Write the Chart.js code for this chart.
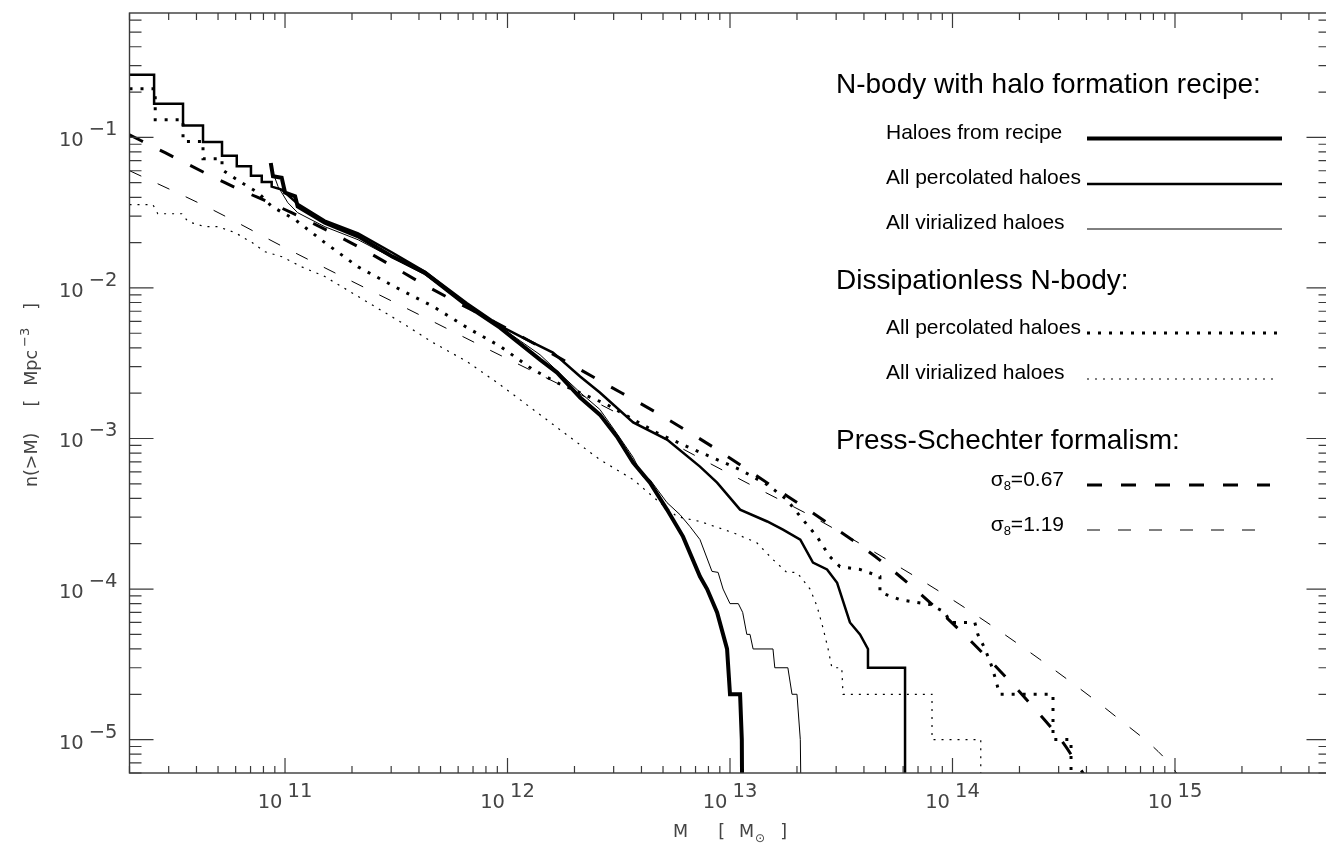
<!DOCTYPE html>
<html>
<head>
<meta charset="utf-8">
<script src="https://cdn.jsdelivr.net/npm/chart.js@4.4.0/dist/chart.umd.min.js"></script>
<style>
  html, body { margin: 0; padding: 0; background: #fff; overflow: hidden; }
  #wrap { width: 1340px; height: 844px; }
</style>
</head>
<body>
<div id="wrap"><canvas id="massFn" width="1340" height="844"></canvas></div>
<script>
// Cumulative halo mass function n(>M) [Mpc^-3] against M [Msun].

// N-body with halo formation recipe: haloes from recipe (thick solid)
const recipeM = [8.63e10, 8.83e10, 9.66e10, 1.0e11, 1.11e11, 1.14e11, 1.51e11, 2.13e11, 3.03e11, 4.26e11,
  6.58e11, 9.25e11, 1.40e12, 1.67e12, 2.12e12, 2.60e12, 3.10e12, 3.67e12, 4.37e12, 5.21e12,
  6.15e12, 7.33e12, 7.89e12, 8.75e12, 9.70e12, 1.0e13, 1.11e13, 1.13e13, 1.14e13];
const recipeN = [0.0676, 0.0551, 0.054, 0.043, 0.0406, 0.0348, 0.0271, 0.022, 0.0162, 0.0126,
  0.00762, 0.00545, 0.00334, 0.00274, 0.00187, 0.00144, 0.00103, 0.000692, 0.000509, 0.000337,
  0.000223, 0.000121, 1.0e-4, 7.0e-5, 4.0e-5, 2.0e-5, 2.0e-5, 1.0e-5, 1.0e-6];

// recipe run: all percolated haloes (medium solid)
const pctRecipeM = [2.0e10, 2.58e10, 2.58e10, 3.48e10, 3.48e10, 4.28e10, 4.28e10, 5.21e10, 5.21e10, 6.07e10,
  6.07e10, 7.03e10, 7.03e10, 7.86e10, 7.86e10, 8.71e10, 8.71e10, 9.66e10, 1.14e11, 1.51e11,
  2.13e11, 3.03e11, 4.26e11, 6.58e11, 9.25e11, 1.22e12, 1.60e12, 2.12e12, 2.60e12, 3.67e12,
  5.21e12, 7.33e12, 8.75e12, 1.11e13, 1.47e13, 1.73e13, 2.07e13, 2.36e13, 2.73e13, 3.03e13,
  3.46e13, 3.84e13, 4.17e13, 4.17e13, 6.12e13, 6.12e13];
const pctRecipeN = [0.261, 0.261, 0.167, 0.167, 0.120, 0.120, 0.0931, 0.0931, 0.0755, 0.0755,
  0.0642, 0.0642, 0.0557, 0.0557, 0.0505, 0.0505, 0.0471, 0.0450, 0.0362, 0.0280,
  0.0230, 0.0172, 0.0128, 0.00790, 0.00560, 0.00454, 0.00372, 0.00258, 0.00202, 0.00128,
  0.000984, 0.000650, 0.000509, 0.000337, 0.000281, 0.000248, 0.000213, 0.000150, 0.000135, 0.000110,
  6.0e-5, 5.0e-5, 4.0e-5, 3.0e-5, 3.0e-5, 1.0e-6];

// recipe run: all virialized haloes (thin solid)
const virRecipeM = [8.7e10, 9.31e10, 1.03e11, 1.14e11, 1.51e11, 2.13e11, 3.03e11, 4.26e11, 6.58e11, 9.25e11,
  1.40e12, 2.12e12, 2.60e12, 3.10e12, 3.67e12, 4.06e12, 4.37e12, 5.21e12, 5.96e12, 6.61e12,
  7.33e12, 8.30e12, 8.84e12, 9.31e12, 1.0e13, 1.09e13, 1.14e13, 1.19e13, 1.23e13, 1.27e13,
  1.56e13, 1.59e13, 1.82e13, 1.90e13, 2.0e13, 2.07e13, 2.11e13];
const virRecipeN = [0.062, 0.0471, 0.0368, 0.0316, 0.0255, 0.0209, 0.0159, 0.0122, 0.00762, 0.00553,
  0.0036, 0.00202, 0.00156, 0.00108, 0.00075, 0.000558, 0.000533, 0.000375, 0.000312, 0.00026,
  0.000213, 0.000131, 0.000129, 1.0e-4, 8.0e-5, 8.0e-5, 7.0e-5, 5.0e-5, 5.0e-5, 4.0e-5,
  4.0e-5, 3.0e-5, 3.0e-5, 2.0e-5, 2.0e-5, 1.0e-5, 1.0e-6];

// dissipationless N-body: all percolated haloes (thick dotted)
const pctNbodyM = [2.0e10, 2.61e10, 2.61e10, 3.48e10, 3.48e10, 4.28e10, 4.28e10, 5.21e10, 5.21e10, 6.38e10,
  7.56e10, 8.71e10, 1.11e11, 1.51e11, 2.13e11, 3.29e11, 4.62e11, 6.58e11, 9.25e11, 1.30e12,
  1.67e12, 2.80e12, 4.70e12, 6.41e12, 8.75e12, 1.11e13, 1.47e13, 1.80e13, 2.07e13, 2.46e13,
  2.81e13, 3.12e13, 3.84e13, 4.72e13, 4.72e13, 5.81e13, 7.93e13, 9.25e13, 9.75e13, 1.26e14,
  1.30e14, 1.40e14, 1.51e14, 1.63e14, 2.83e14, 2.83e14, 3.41e14, 3.41e14];
const pctNbodyN = [0.210, 0.210, 0.131, 0.131, 0.094, 0.094, 0.0722, 0.0722, 0.0610, 0.050,
  0.043, 0.0348, 0.0284, 0.020, 0.0138, 0.00975, 0.00755, 0.00545, 0.0041, 0.00287,
  0.00235, 0.00168, 0.00109, 0.000884, 0.000724, 0.000621, 0.000494, 0.000393, 0.000303, 0.000223,
  0.000164, 0.000141, 0.000135, 0.000121, 9.5e-5, 8.5e-5, 7.9e-5, 7.0e-5, 6.0e-5, 6.0e-5,
  5.0e-5, 4.0e-5, 3.0e-5, 2.0e-5, 2.0e-5, 1.0e-5, 1.0e-5, 1.0e-6];

// dissipationless N-body: all virialized haloes (thin dotted)
const virNbodyM = [2.0e10, 2.55e10, 2.68e10, 3.44e10, 3.66e10, 4.36e10, 5.0e10, 5.96e10, 7.11e10, 8.13e10,
  9.70e10, 1.19e11, 1.51e11, 3.29e11, 4.62e11, 6.58e11, 9.25e11, 2.60e12, 3.67e12, 4.84e12,
  5.78e12, 7.33e12, 1.03e13, 1.32e13, 1.56e13, 1.80e13, 2.0e13, 2.29e13, 2.46e13, 2.62e13,
  2.76e13, 2.87e13, 3.18e13, 3.22e13, 8.09e13, 8.09e13, 1.34e14, 1.34e14];
const virNbodyN = [0.0357, 0.0357, 0.0311, 0.0311, 0.0276, 0.0255, 0.0255, 0.0233, 0.020, 0.0174,
  0.0161, 0.0138, 0.0119, 0.00597, 0.00434, 0.00324, 0.00228, 0.000724, 0.000533, 0.000375,
  0.000303, 0.000281, 0.000237, 0.000203, 0.000157, 0.000129, 0.000129, 1.0e-4, 7.7e-5, 5.5e-5,
  4.0e-5, 3.0e-5, 3.0e-5, 2.0e-5, 2.0e-5, 1.0e-5, 1.0e-5, 1.0e-6];

// Press-Schechter, sigma8 = 0.67 (thick dashed) and 1.19 (thin dashed)
const ps067M = [2.0e10, 2.89e10, 5.37e10, 1.07e11, 2.13e11, 4.49e11, 9.95e11, 2.69e12, 4.84e12, 8.75e12,
  1.51e13, 2.73e13, 4.87e13, 1.08e14, 2.52e14, 3.14e14, 3.86e14, 4.36e14];
const ps067N = [0.104, 0.0791, 0.050, 0.0316, 0.0188, 0.0100, 0.00537, 0.00235, 0.00144, 0.000843,
  0.000494, 0.000276, 0.000150, 5.31e-5, 1.42e-5, 9.55e-6, 6.0e-6, 4.66e-6];
const ps119M = [2.0e10, 4.60e10, 1.0e11, 4.54e11, 8.43e11, 1.55e12, 2.89e12, 7.11e12, 1.28e13, 2.39e13,
  4.26e13, 1.08e14, 2.47e14, 5.43e14, 9.12e14, 1.11e15];
const ps119N = [0.0601, 0.0337, 0.0185, 0.00606, 0.00383, 0.00246, 0.00156, 0.000758, 0.000480, 0.000298,
  0.000183, 7.89e-5, 3.41e-5, 1.42e-5, 7.36e-6, 5.02e-6];

// axis ranges
const massRange = [2e10, 5e15];
const densRange = [6e-6, 0.67];

const axisColor = '#3a3a3a';
const labelFont = '"DejaVu Sans", sans-serif';
const legendFont = '"Liberation Sans", Arial, sans-serif';

function pts(m, n) {
  return m.map((v, i) => ({ x: v, y: n[i] }));
}

function logTicks(min, max) {
  const out = [];
  for (let e = Math.floor(Math.log10(min)); e <= Math.ceil(Math.log10(max)); e++) {
    for (let k = 1; k <= 9; k++) {
      const v = k * Math.pow(10, e);
      if (v >= min * 0.999 && v <= max * 1.001) out.push({ v, e, major: k === 1 });
    }
  }
  return out;
}

// writes "10" with a raised exponent; anchor is centre (x axis) or right edge (y axis)
function powerLabel(ctx, exp, x, y, anchor) {
  ctx.font = '19.5px ' + labelFont;
  const expStr = exp < 0 ? '\u2212' + Math.abs(exp) : String(exp);
  const w1 = ctx.measureText('10').width;
  const w2 = ctx.measureText(expStr).width;
  const gap = 5;
  const total = w1 + gap + w2;
  const x0 = anchor === 'center' ? x - total / 2 : x - total;
  ctx.textAlign = 'left';
  ctx.fillText('10', x0, y);
  ctx.fillText(expStr, x0 + w1 + gap, y - 11);
}

function drawPieces(ctx, pieces, cx, baseY) {
  let total = 0;
  pieces.forEach(p => {
    ctx.font = (p.size || 17.5) + 'px ' + labelFont;
    p.w = ctx.measureText(p.t).width;
    total += (p.gap || 0) + p.w;
  });
  let cur = cx - total / 2;
  ctx.textAlign = 'left';
  pieces.forEach(p => {
    cur += p.gap || 0;
    ctx.font = (p.size || 17.5) + 'px ' + labelFont;
    ctx.fillText(p.t, cur, baseY + (p.dy || 0));
    cur += p.w;
  });
}

function legendSample(ctx, ds, y, x1, x2) {
  ctx.save();
  ctx.strokeStyle = '#000';
  ctx.lineWidth = ds.borderWidth;
  ctx.setLineDash(ds.borderDash || []);
  ctx.beginPath();
  ctx.moveTo(x1, y);
  ctx.lineTo(x2, y);
  ctx.stroke();
  ctx.restore();
}

const idlFrame = {
  id: 'idlFrame',
  afterDraw(chart) {
    const { ctx, chartArea: a, scales: { x, y } } = chart;
    const ds = chart.data.datasets;
    ctx.save();

    // frame
    ctx.strokeStyle = axisColor;
    ctx.lineWidth = 1.4;
    ctx.strokeRect(a.left, a.top, a.right - a.left, a.bottom - a.top);

    // ticks, pointing inwards on all four sides
    ctx.lineWidth = 1.2;
    ctx.beginPath();
    logTicks(x.min, x.max).forEach(t => {
      const px = x.getPixelForValue(t.v);
      const len = t.major ? 15 : 7;
      ctx.moveTo(px, a.bottom); ctx.lineTo(px, a.bottom - len);
      ctx.moveTo(px, a.top); ctx.lineTo(px, a.top + len);
    });
    logTicks(y.min, y.max).forEach(t => {
      const py = y.getPixelForValue(t.v);
      const len = t.major ? 24 : 12;
      ctx.moveTo(a.left, py); ctx.lineTo(a.left + len, py);
      ctx.moveTo(a.right, py); ctx.lineTo(a.right - len, py);
    });
    ctx.stroke();

    // tick labels
    ctx.fillStyle = '#444';
    logTicks(x.min, x.max).filter(t => t.major).forEach(t => {
      powerLabel(ctx, t.e, x.getPixelForValue(t.v), a.bottom + 35, 'center');
    });
    logTicks(y.min, y.max).filter(t => t.major).forEach(t => {
      powerLabel(ctx, t.e, a.left - 12, y.getPixelForValue(t.v) + 9, 'right');
    });

    // axis titles
    drawPieces(ctx, [
      { t: 'M' },
      { t: '[', gap: 30 },
      { t: 'M', gap: 14 },
      { t: '\u2299', size: 12, dy: 5, gap: 1 },
      { t: ']', gap: 15 }
    ], (a.left + a.right) / 2, 837);

    ctx.save();
    ctx.translate(37, (a.top + a.bottom) / 2 + 2);
    ctx.rotate(-Math.PI / 2);
    drawPieces(ctx, [
      { t: 'n(>M)' },
      { t: '[', gap: 26 },
      { t: 'Mpc', gap: 14 },
      { t: '\u22123', size: 13, dy: -8, gap: 3 },
      { t: ']', gap: 18 }
    ], 0, 0);
    ctx.restore();

    // legend
    ctx.fillStyle = '#000';
    ctx.textAlign = 'left';
    ctx.font = '28px ' + legendFont;
    ctx.fillText('N-body with halo formation recipe:', 836, 93);
    ctx.fillText('Dissipationless N-body:', 836, 289);
    ctx.fillText('Press-Schechter formalism:', 836, 449);

    ctx.font = '21px ' + legendFont;
    ctx.fillText(ds[0].label, 886, 139);
    ctx.fillText(ds[1].label, 886, 184);
    ctx.fillText(ds[2].label, 886, 229);
    ctx.fillText(ds[3].label, 886, 334);
    ctx.fillText(ds[4].label, 886, 379);

    legendSample(ctx, ds[0], 138.5, 1087, 1282);
    legendSample(ctx, ds[1], 184, 1087, 1282);
    legendSample(ctx, ds[2], 229, 1087, 1282);
    legendSample(ctx, ds[3], 333, 1087, 1277);
    legendSample(ctx, ds[4], 379, 1087, 1277);
    legendSample(ctx, ds[5], 485, 1087, 1270);
    legendSample(ctx, ds[6], 530, 1087, 1270);

    // sigma_8 labels, right aligned
    [[ds[5].label, 486], [ds[6].label, 531]].forEach(([val, base]) => {
      ctx.font = '21px ' + legendFont;
      const wS = ctx.measureText('\u03c3').width;
      const wV = ctx.measureText('=' + val).width;
      ctx.font = '13px ' + legendFont;
      const w8 = ctx.measureText('8').width;
      const x0 = 1064 - (wS + w8 + wV);
      ctx.font = '21px ' + legendFont;
      ctx.fillText('\u03c3', x0, base);
      ctx.font = '13px ' + legendFont;
      ctx.fillText('8', x0 + wS, base + 4);
      ctx.font = '21px ' + legendFont;
      ctx.fillText('=' + val, x0 + wS + w8, base);
    });

    ctx.restore();
  }
};

new Chart(document.getElementById('massFn'), {
  type: 'line',
  data: {
    datasets: [
      { label: 'Haloes from recipe', data: pts(recipeM, recipeN), borderWidth: 4 },
      { label: 'All percolated haloes', data: pts(pctRecipeM, pctRecipeN), borderWidth: 2.5 },
      { label: 'All virialized haloes', data: pts(virRecipeM, virRecipeN), borderWidth: 1 },
      { label: 'All percolated haloes', data: pts(pctNbodyM, pctNbodyN), borderWidth: 3, borderDash: [3, 8] },
      { label: 'All virialized haloes', data: pts(virNbodyM, virNbodyN), borderWidth: 1.2, borderDash: [2, 6] },
      { label: '0.67', data: pts(ps067M, ps067N), borderWidth: 3, borderDash: [15, 19], cubicInterpolationMode: 'monotone' },
      { label: '1.19', data: pts(ps119M, ps119N), borderWidth: 1, borderDash: [13, 18], cubicInterpolationMode: 'monotone' }
    ]
  },
  options: {
    responsive: false,
    devicePixelRatio: 1,
    animation: false,
    events: [],
    layout: { padding: { left: 0, right: 9.5, top: 13, bottom: 0 } },
    plugins: { legend: { display: false }, tooltip: { enabled: false } },
    elements: {
      point: { radius: 0 },
      line: { borderColor: '#000', fill: false, tension: 0, borderCapStyle: 'butt', borderJoinStyle: 'miter' }
    },
    datasets: { line: { clip: 0 } },
    scales: {
      x: {
        type: 'logarithmic', min: massRange[0], max: massRange[1],
        grid: { display: false }, border: { display: false }, ticks: { display: false },
        afterFit: s => { s.height = 71; }
      },
      y: {
        type: 'logarithmic', min: densRange[0], max: densRange[1],
        grid: { display: false }, border: { display: false }, ticks: { display: false },
        afterFit: s => { s.width = 129.5; }
      }
    }
  },
  plugins: [idlFrame]
});
</script>
</body>
</html>
